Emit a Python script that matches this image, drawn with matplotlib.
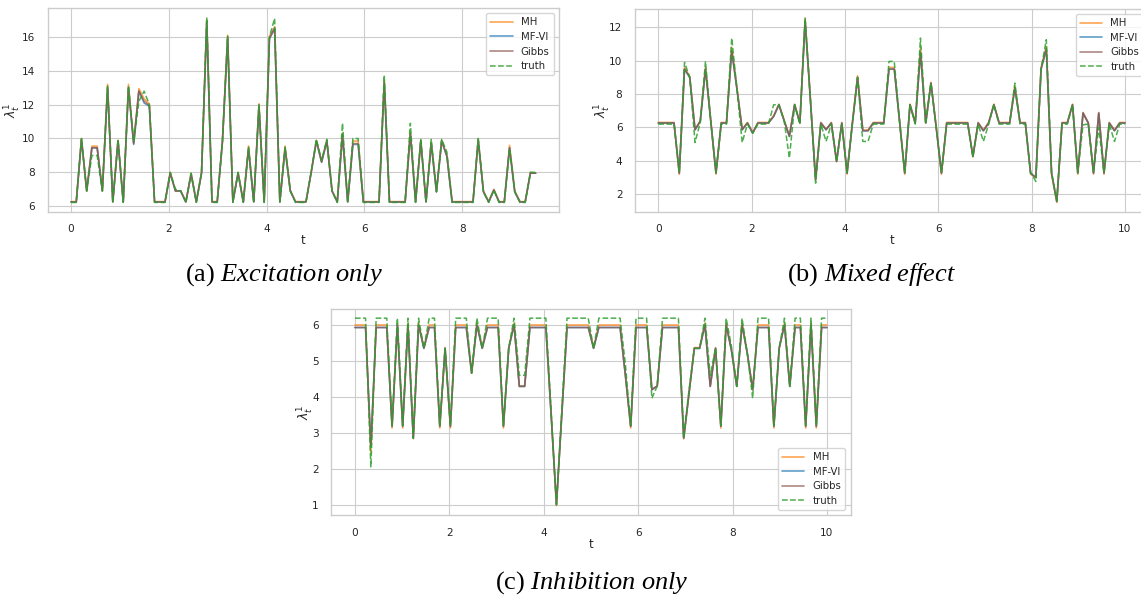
import numpy as np
import matplotlib
matplotlib.use("Agg")
import matplotlib.pyplot as plt
import seaborn as sns

# ---------------------------------------------------------------------------
# Data: posterior intensity lambda_t^1 per method.
# ---------------------------------------------------------------------------

t_a = np.linspace(0.0, 9.5, 90)
t_bc = np.linspace(0.0, 10.0, 90)

METHODS = ["MH", "MF-VI", "Gibbs", "truth"]
CAPTIONS = ["Excitation only", "Mixed effect", "Inhibition only"]

# (a) excitation only
mh_a = [6.27, 6.27, 10.0, 6.9, 9.55, 9.55, 6.9, 13.2, 6.27, 9.9,
        6.27, 13.2, 9.75, 12.95, 12.35, 12.05, 6.27, 6.27, 6.27, 8.0,
        6.9, 6.9, 6.27, 7.95, 6.27, 8.0, 17.0, 6.27, 6.27, 9.85,
        16.1, 6.27, 8.0, 6.27, 9.55, 6.27, 12.05, 6.27, 16.05, 16.6,
        6.27, 9.55, 6.95, 6.27, 6.27, 6.27, 8.0, 9.9, 8.65, 9.9,
        6.9, 6.27, 10.3, 6.27, 9.85, 9.85, 6.27, 6.27, 6.27, 6.27,
        13.45, 6.27, 6.27, 6.27, 6.27, 10.4, 6.27, 9.9, 6.27, 9.8,
        6.9, 9.9, 9.0, 6.27, 6.27, 6.27, 6.27, 6.27, 9.95, 6.9,
        6.27, 7.0, 6.27, 6.27, 9.6, 6.9, 6.27, 6.27, 8.0, 7.95]
mfvi_a = [6.25, 6.25, 9.95, 6.9, 9.45, 9.45, 6.9, 13.0, 6.25, 9.85,
          6.25, 13.0, 9.65, 12.8, 12.1, 11.9, 6.25, 6.25, 6.25, 7.95,
          6.9, 6.9, 6.25, 7.9, 6.25, 7.95, 16.9, 6.25, 6.25, 9.8,
          15.95, 6.25, 7.95, 6.25, 9.4, 6.25, 11.9, 6.25, 15.9, 16.5,
          6.25, 9.4, 6.9, 6.25, 6.25, 6.25, 8.0, 9.85, 8.6, 9.85,
          6.9, 6.25, 10.2, 6.25, 9.65, 9.65, 6.25, 6.25, 6.25, 6.25,
          13.3, 6.25, 6.25, 6.25, 6.25, 10.3, 6.25, 9.85, 6.25, 9.7,
          6.85, 9.85, 8.95, 6.25, 6.25, 6.25, 6.25, 6.25, 9.9, 6.85,
          6.25, 6.95, 6.25, 6.25, 9.45, 6.85, 6.25, 6.25, 7.95, 7.95]
gibbs_a = [6.25, 6.25, 9.95, 6.9, 9.45, 9.45, 6.9, 13.0, 6.25, 9.85,
           6.25, 13.0, 9.7, 12.8, 12.2, 11.95, 6.25, 6.25, 6.25, 7.95,
           6.9, 6.9, 6.25, 7.9, 6.25, 7.95, 16.9, 6.25, 6.25, 9.8,
           15.95, 6.25, 7.95, 6.25, 9.4, 6.25, 11.9, 6.25, 15.9, 16.5,
           6.25, 9.4, 6.9, 6.25, 6.25, 6.25, 8.0, 9.85, 8.6, 9.85,
           6.9, 6.25, 10.2, 6.25, 9.7, 9.7, 6.25, 6.25, 6.25, 6.25,
           13.3, 6.25, 6.25, 6.25, 6.25, 10.3, 6.25, 9.85, 6.25, 9.7,
           6.85, 9.85, 8.95, 6.25, 6.25, 6.25, 6.25, 6.25, 9.9, 6.85,
           6.25, 6.95, 6.25, 6.25, 9.45, 6.85, 6.25, 6.25, 7.95, 7.95]
truth_a = [6.22, 6.22, 10.0, 6.9, 9.0, 9.0, 6.9, 13.1, 6.22, 9.95,
           6.22, 13.1, 9.8, 12.2, 12.8, 12.0, 6.22, 6.22, 6.22, 8.0,
           7.0, 6.9, 6.22, 7.95, 6.22, 8.0, 17.15, 6.22, 6.22, 9.8,
           16.05, 6.22, 8.0, 6.22, 9.5, 6.22, 12.0, 6.22, 16.0, 17.1,
           6.22, 9.5, 6.9, 6.22, 6.22, 6.22, 8.0, 9.95, 8.7, 9.95,
           6.9, 6.22, 10.9, 6.22, 10.0, 10.0, 6.22, 6.22, 6.22, 6.22,
           13.75, 6.22, 6.22, 6.22, 6.22, 10.9, 6.22, 9.95, 6.22, 9.95,
           6.85, 9.95, 9.2, 6.22, 6.22, 6.22, 6.22, 6.22, 10.0, 6.85,
           6.22, 6.95, 6.22, 6.22, 9.4, 6.85, 6.22, 6.22, 8.0, 8.0]

# (b) mixed effect
mh_b = [6.3, 6.3, 6.3, 6.3, 3.2, 9.6, 9.05, 5.9, 6.4, 9.6,
        6.45, 3.2, 6.3, 6.3, 10.8, 8.4, 5.9, 6.3, 5.7, 6.3,
        6.3, 6.3, 6.7, 7.4, 6.45, 5.5, 7.4, 6.3, 12.55, 7.75,
        2.85, 6.3, 5.9, 6.3, 3.95, 6.3, 3.2, 6.25, 9.1, 5.85,
        5.85, 6.3, 6.3, 6.3, 9.6, 9.6, 6.45, 3.2, 7.4, 6.3,
        10.8, 6.3, 8.7, 6.05, 3.2, 6.3, 6.3, 6.3, 6.3, 6.3,
        4.25, 6.3, 5.85, 6.3, 7.4, 6.3, 6.3, 6.3, 8.5, 6.3,
        6.3, 3.2, 3.0, 9.6, 10.85, 3.2, 1.5, 6.3, 6.3, 7.4,
        3.2, 6.9, 6.3, 3.2, 6.9, 3.2, 6.3, 5.85, 6.3, 6.3]
mfvi_b = [6.27, 6.27, 6.27, 6.27, 3.26, 9.5, 9.0, 5.86, 6.36, 9.5,
          6.4, 3.26, 6.27, 6.27, 10.6, 8.3, 5.86, 6.27, 5.66, 6.27,
          6.27, 6.27, 6.66, 7.36, 6.4, 5.46, 7.36, 6.27, 12.4, 7.7,
          2.86, 6.27, 5.86, 6.27, 3.96, 6.27, 3.26, 6.2, 9.0, 5.8,
          5.8, 6.27, 6.27, 6.27, 9.5, 9.5, 6.4, 3.26, 7.36, 6.27,
          10.5, 6.27, 8.66, 6.0, 3.26, 6.27, 6.27, 6.27, 6.27, 6.27,
          4.26, 6.27, 5.8, 6.27, 7.36, 6.27, 6.27, 6.27, 8.36, 6.27,
          6.27, 3.26, 3.0, 9.5, 10.7, 3.26, 1.56, 6.27, 6.27, 7.36,
          3.26, 6.86, 6.27, 3.26, 6.86, 3.26, 6.27, 5.8, 6.27, 6.27]
gibbs_b = [6.26, 6.26, 6.26, 6.26, 3.26, 9.5, 9.0, 5.86, 6.36, 9.5,
           6.4, 3.26, 6.26, 6.26, 10.6, 8.3, 5.86, 6.26, 5.66, 6.26,
           6.26, 6.26, 6.66, 7.36, 6.4, 5.46, 7.36, 6.26, 12.4, 7.7,
           2.86, 6.26, 5.86, 6.26, 3.96, 6.26, 3.26, 6.2, 9.0, 5.8,
           5.8, 6.26, 6.26, 6.26, 9.5, 9.5, 6.4, 3.26, 7.36, 6.26,
           10.5, 6.26, 8.66, 6.0, 3.26, 6.26, 6.26, 6.26, 6.26, 6.26,
           4.26, 6.26, 5.8, 6.26, 7.36, 6.26, 6.26, 6.26, 8.36, 6.26,
           6.26, 3.26, 3.0, 9.5, 10.7, 3.26, 1.56, 6.26, 6.26, 7.36,
           3.26, 6.86, 6.26, 3.26, 6.86, 3.26, 6.26, 5.8, 6.26, 6.26]
truth_b = [6.2, 6.2, 6.2, 6.2, 3.3, 9.9, 9.0, 5.1, 6.3, 9.96,
           6.4, 3.3, 6.2, 6.2, 11.36, 8.3, 5.1, 6.2, 5.66, 6.2,
           6.2, 6.2, 7.36, 7.36, 6.4, 4.16, 7.36, 6.2, 12.55, 7.7,
           2.66, 6.2, 5.16, 6.2, 3.96, 6.2, 3.3, 6.2, 9.0, 5.16,
           5.16, 6.2, 6.2, 6.2, 9.96, 9.96, 6.4, 3.3, 7.36, 6.2,
           11.36, 6.2, 8.66, 6.0, 3.3, 6.2, 6.2, 6.2, 6.2, 6.2,
           4.26, 6.2, 5.16, 6.2, 7.36, 6.2, 6.2, 6.2, 8.66, 6.2,
           6.2, 3.3, 2.76, 9.5, 11.26, 3.3, 1.6, 6.2, 6.2, 7.36,
           3.3, 6.16, 6.2, 3.3, 6.0, 3.3, 6.2, 5.16, 6.2, 6.2]

# (c) inhibition only
mh_c = [6.0, 6.0, 6.0, 2.42, 6.0, 6.0, 6.0, 3.13, 6.05, 3.13,
        6.05, 2.83, 6.05, 5.37, 6.0, 6.0, 3.13, 5.37, 3.13, 6.0,
        6.0, 6.0, 4.66, 6.05, 5.37, 6.0, 6.0, 6.0, 3.13, 5.37,
        6.05, 4.3, 4.3, 6.0, 6.0, 6.0, 6.0, 3.5, 0.97, 3.5,
        6.0, 6.0, 6.0, 6.0, 6.0, 5.37, 6.0, 6.0, 6.0, 6.0,
        6.0, 4.6, 3.13, 6.0, 6.0, 6.0, 4.2, 4.3, 6.0, 6.0,
        6.0, 6.0, 2.83, 4.1, 5.37, 5.37, 6.05, 4.3, 5.37, 3.13,
        6.05, 5.3, 4.3, 6.05, 5.2, 4.2, 6.0, 6.0, 6.0, 3.13,
        5.37, 6.05, 4.3, 6.0, 6.0, 3.13, 6.05, 3.13, 6.0, 6.0]
mfvi_c = [5.93, 5.93, 5.93, 2.65, 5.93, 5.93, 5.93, 3.18, 6.0, 3.18,
          6.0, 2.85, 6.0, 5.35, 5.93, 5.93, 3.18, 5.35, 3.18, 5.93,
          5.93, 5.93, 4.66, 6.0, 5.35, 5.93, 5.93, 5.93, 3.18, 5.35,
          6.0, 4.29, 4.29, 5.93, 5.93, 5.93, 5.93, 3.5, 1.0, 3.5,
          5.93, 5.93, 5.93, 5.93, 5.93, 5.35, 5.93, 5.93, 5.93, 5.93,
          5.93, 4.6, 3.18, 5.93, 5.93, 5.93, 4.2, 4.3, 5.93, 5.93,
          5.93, 5.93, 2.85, 4.1, 5.35, 5.35, 6.0, 4.29, 5.35, 3.18,
          6.0, 5.3, 4.29, 6.0, 5.2, 4.2, 5.93, 5.93, 5.93, 3.18,
          5.35, 6.0, 4.29, 5.93, 5.93, 3.18, 6.0, 3.18, 5.93, 5.93]
gibbs_c = [5.93, 5.93, 5.93, 2.6, 5.93, 5.93, 5.93, 3.18, 6.0, 3.18,
           6.0, 2.85, 6.0, 5.35, 5.93, 5.93, 3.18, 5.35, 3.18, 5.93,
           5.93, 5.93, 4.66, 6.0, 5.35, 5.93, 5.93, 5.93, 3.18, 5.35,
           6.0, 4.29, 4.29, 5.93, 5.93, 5.93, 5.93, 3.5, 1.0, 3.5,
           5.93, 5.93, 5.93, 5.93, 5.93, 5.35, 5.93, 5.93, 5.93, 5.93,
           5.93, 4.6, 3.18, 5.93, 5.93, 5.93, 4.2, 4.3, 5.93, 5.93,
           5.93, 5.93, 2.85, 4.1, 5.35, 5.35, 6.0, 4.29, 5.35, 3.18,
           6.0, 5.3, 4.29, 6.0, 5.2, 4.2, 5.93, 5.93, 5.93, 3.18,
           5.35, 6.0, 4.29, 5.93, 5.93, 3.18, 6.0, 3.18, 5.93, 5.93]
truth_c = [6.19, 6.19, 6.19, 2.05, 6.19, 6.19, 6.19, 3.2, 6.19, 3.2,
           6.19, 2.85, 6.19, 5.35, 6.19, 6.19, 3.2, 5.35, 3.2, 6.19,
           6.19, 6.19, 4.66, 6.19, 5.35, 6.19, 6.19, 6.19, 3.2, 5.35,
           6.19, 4.6, 4.6, 6.19, 6.19, 6.19, 6.19, 3.6, 1.0, 3.6,
           6.19, 6.19, 6.19, 6.19, 6.19, 5.35, 6.19, 6.19, 6.19, 6.19,
           6.19, 4.9, 3.2, 6.19, 6.19, 6.19, 3.96, 4.3, 6.19, 6.19,
           6.19, 6.19, 2.85, 4.2, 5.35, 5.35, 6.19, 4.6, 5.35, 3.2,
           6.19, 5.4, 4.29, 6.19, 5.2, 3.96, 6.19, 6.19, 6.19, 3.2,
           5.35, 6.19, 4.29, 6.19, 6.19, 3.2, 6.19, 3.2, 6.19, 6.19]

# ---------------------------------------------------------------------------
# Style
# ---------------------------------------------------------------------------

sns.set_theme(style="whitegrid")
plt.rcParams["font.family"] = ["DejaVu Sans"]
plt.rcParams["mathtext.fontset"] = "custom"
plt.rcParams["mathtext.rm"] = "Liberation Serif"
plt.rcParams["mathtext.it"] = "Liberation Serif:italic"
plt.rcParams["axes.linewidth"] = 1.0
plt.rcParams["grid.linewidth"] = 0.8

COLORS = {"MH": "tab:orange", "MF-VI": "tab:blue", "Gibbs": "tab:brown",
          "truth": "tab:green"}


def draw_panel(ax, t, series, legend_loc, ylab_x):
    for name, vals in zip(METHODS, series):
        if name == "truth":
            ax.plot(t, vals, "--", color=COLORS[name], lw=1.1, alpha=0.85,
                    label=name)
        else:
            ax.plot(t, vals, "-", color=COLORS[name], lw=1.2, alpha=0.7,
                    label=name)
    ax.tick_params(labelsize=7.6, pad=3, colors=".15")
    ax.set_xlabel("t", fontsize=8.5, labelpad=0, color=".15")
    ax.set_ylabel(r"$\lambda_t^1$", fontsize=9, color=".15",
                  math_fontfamily="dejavusans")
    # pin the y label just left of the tick labels, as in the paper figure
    ax.yaxis.set_label_coords(ylab_x, 0.5)
    ax.legend(loc=legend_loc, fontsize=7.3, frameon=True, framealpha=0.8,
              edgecolor=".8", handlelength=2.2, borderpad=0.4,
              labelspacing=0.45)


fig = plt.figure(figsize=(11.41, 5.96), dpi=100)

ax_a = fig.add_axes([0.0419, 0.6448, 0.4479, 0.3413])
ax_b = fig.add_axes([0.5565, 0.6448, 0.4499, 0.3401])
ax_c = fig.add_axes([0.2904, 0.1359, 0.4550, 0.3460])

draw_panel(ax_a, t_a, [mh_a, mfvi_a, gibbs_a, truth_a], "upper right", -0.049)
draw_panel(ax_b, t_bc, [mh_b, mfvi_b, gibbs_b, truth_b], "upper right", -0.043)
draw_panel(ax_c, t_bc, [mh_c, mfvi_c, gibbs_c, truth_c], "lower right", -0.030)

ax_a.set_yticks([6, 8, 10, 12, 14, 16])
ax_a.set_xticks([0, 2, 4, 6, 8])
ax_b.set_yticks([2, 4, 6, 8, 10, 12])
ax_b.set_xticks([0, 2, 4, 6, 8, 10])
ax_c.set_yticks([1, 2, 3, 4, 5, 6])
ax_c.set_xticks([0, 2, 4, 6, 8, 10])

# sub-figure captions, LaTeX-like serif
cap_kw = dict(ha="center", va="baseline", fontsize=19, family="Liberation Serif",
              color="black")
fig.text(0.2491, 0.530, r"(a) $\mathit{Excitation\ only}$", **cap_kw)
fig.text(0.764, 0.530, r"(b) $\mathit{Mixed\ effect}$", **cap_kw)
fig.text(0.519, 0.012, r"(c) $\mathit{Inhibition\ only}$", **cap_kw)

fig.savefig("out.png", dpi=100)
